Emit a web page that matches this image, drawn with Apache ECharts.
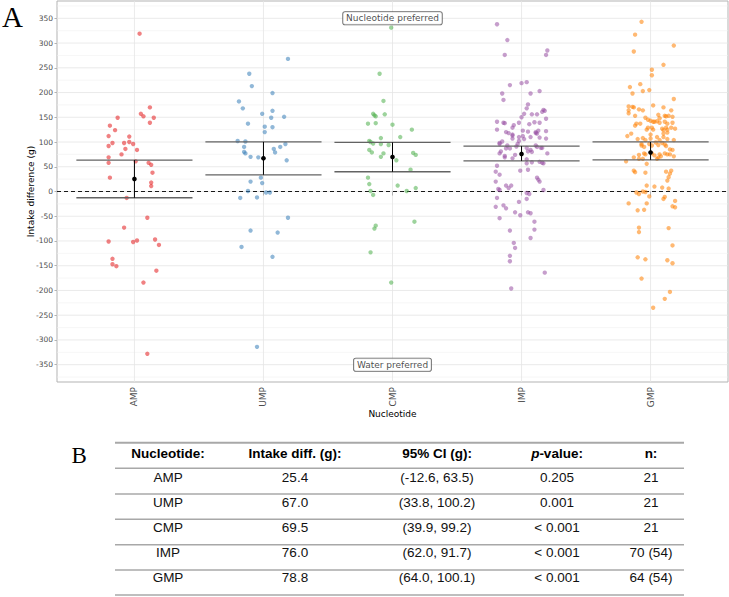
<!DOCTYPE html>
<html>
<head>
<meta charset="utf-8">
<script src="https://cdn.jsdelivr.net/npm/echarts@6/dist/echarts.min.js"></script>
<style>
html,body{margin:0;padding:0;background:#fff;}
#chart{width:729px;height:597px;}
</style>
</head>
<body>
<div id="chart"></div>
<script>
// ---------- DATA ----------
const categories = ['AMP', 'UMP', 'CMP', 'IMP', 'GMP'];
const yTicks = [-350, -300, -250, -200, -150, -100, -50, 0, 50, 100, 150, 200, 250, 300, 350];
const yGrid = [-375, -350, -325, -300, -275, -250, -225, -200, -175, -150, -125, -100, -75, -50, -25, 0, 25, 50, 75, 100, 125, 150, 175, 200, 225, 250, 275, 300, 325, 350, 375];

const meanDiff = [25.4, 67.0, 69.5, 76.0, 78.8];
const ciLow = [-12.6, 33.8, 39.9, 62.0, 64.0];
const ciHigh = [63.5, 100.2, 99.2, 91.7, 100.1];
const pValues = ['0.205', '0.001', '< 0.001', '< 0.001', '< 0.001'];
const nValues = ['21', '21', '21', '70 (54)', '64 (54)'];
const tableHeader = ['Nucleotide:', 'Intake diff. (g):', '95% CI (g):', 'p-value:', 'n:'];

// jittered points: [horizontal jitter offset from category, intake difference (g)]
const ampPoints = [[0.04,319],[-0.13,149],[-0.19,133],[-0.15,124],[-0.20,112],[-0.04,111],[-0.17,98],[-0.20,92],[-0.08,98],[-0.04,100],[-0.01,96],[-0.07,86],[-0.10,75],[0.02,84],[-0.20,69],[-0.20,58],[-0.19,28],[0.12,170],[0.05,157],[0.07,152],[0.15,149],[0.12,139],[0.01,61],[0.11,58],[0.13,54],[0.14,38],[0.13,18],[0.13,11],[-0.06,-13],[0.10,-53],[-0.08,-73],[-0.20,-101],[-0.01,-102],[0.02,-99],[0.16,-97],[0.19,-108],[-0.17,-136],[-0.17,-147],[-0.14,-151],[0.17,-160],[0.07,-184],[0.10,-328]];
const umpPoints = [[0.19,268],[-0.11,238],[-0.09,213],[0.07,199],[-0.19,182],[-0.16,168],[0.07,163],[-0.01,157],[0.16,151],[0.06,149],[-0.12,137],[0.01,131],[0.07,130],[0.01,120],[-0.20,102],[-0.14,101],[-0.15,90],[0.13,90],[0.17,96],[0.08,86],[0.09,79],[-0.15,80],[-0.14,77],[-0.10,70],[-0.04,69],[0.18,63],[-0.10,20],[-0.01,17],[-0.02,28],[-0.12,1],[0.02,-2],[0.05,-2],[-0.18,-13],[-0.05,-12],[0.19,-53],[-0.10,-79],[0.11,-83],[-0.17,-112],[0.07,-132],[-0.05,-314]];
const cmpPoints = [[-0.01,331],[-0.10,238],[-0.07,183],[-0.15,157],[-0.14,154],[-0.13,152],[-0.06,156],[-0.19,137],[-0.13,138],[0.00,135],[0.15,125],[0.06,110],[-0.18,102],[-0.17,100],[-0.15,97],[-0.09,108],[-0.09,96],[-0.03,94],[-0.18,84],[-0.16,79],[-0.07,77],[-0.09,70],[0.03,63],[0.16,78],[0.18,74],[0.14,44],[-0.19,28],[-0.18,15],[0.04,12],[-0.17,1],[-0.15,-7],[0.18,7],[0.11,1],[0.17,-61],[-0.13,-69],[-0.14,-75],[-0.17,-123],[-0.01,-184]];
const impPoints = [[-0.19,338],[-0.11,306],[-0.13,276],[0.20,285],[0.19,276],[0.00,219],[0.04,221],[-0.09,215],[-0.15,198],[0.07,198],[0.14,203],[-0.14,185],[0.05,176],[0.04,168],[0.17,165],[0.18,163],[0.16,161],[0.02,157],[0.08,156],[0.12,156],[0.00,150],[0.19,147],[-0.19,141],[-0.14,139],[-0.13,138],[-0.06,134],[-0.07,129],[-0.02,139],[0.06,136],[0.10,140],[0.14,139],[-0.19,125],[-0.12,120],[-0.10,118],[-0.07,115],[0.01,123],[0.05,121],[0.11,120],[0.13,123],[0.19,122],[-0.15,101],[-0.17,98],[-0.17,96],[-0.07,113],[-0.07,107],[-0.02,110],[0.01,112],[0.02,106],[0.07,110],[0.11,118],[0.12,117],[0.14,109],[0.19,107],[-0.11,93],[-0.12,87],[-0.09,87],[-0.04,91],[-0.02,102],[-0.03,96],[0.04,88],[0.05,81],[0.07,84],[0.08,80],[0.11,93],[0.12,90],[0.15,88],[0.16,88],[0.20,77],[-0.16,81],[-0.17,77],[-0.13,72],[-0.13,69],[-0.05,74],[-0.07,67],[0.04,65],[0.04,57],[0.08,59],[0.14,60],[0.16,58],[0.17,57],[-0.19,52],[-0.20,40],[-0.17,34],[-0.01,42],[0.05,44],[0.12,28],[0.13,24],[0.14,20],[-0.20,20],[-0.12,12],[-0.08,12],[-0.10,7],[-0.18,5],[-0.17,3],[0.17,3],[0.04,-3],[0.06,-5],[-0.19,-13],[0.04,-15],[-0.20,-31],[-0.14,-28],[-0.12,-34],[-0.02,-21],[-0.05,-42],[-0.17,-54],[-0.01,-48],[0.05,-42],[0.07,-44],[0.10,-61],[-0.09,-79],[0.10,-77],[0.07,-94],[-0.06,-104],[-0.05,-114],[-0.09,-130],[-0.09,-141],[0.18,-164],[-0.08,-196]];
const gmpPoints = [[-0.07,343],[-0.12,317],[-0.13,283],[0.18,295],[0.10,256],[0.01,246],[0.01,235],[-0.08,217],[-0.16,211],[-0.06,203],[-0.01,205],[-0.14,198],[0.18,187],[0.02,174],[-0.17,172],[-0.14,171],[-0.13,170],[-0.17,164],[-0.17,158],[-0.09,166],[-0.06,164],[0.10,170],[0.16,164],[-0.12,153],[-0.04,149],[0.06,155],[0.07,148],[0.11,153],[0.12,152],[0.14,153],[0.17,151],[-0.02,145],[0.00,143],[0.02,141],[0.03,141],[0.05,142],[0.07,139],[-0.11,137],[-0.12,133],[-0.08,137],[0.11,141],[0.13,137],[0.17,139],[0.16,129],[-0.02,129],[-0.03,125],[0.01,129],[0.02,125],[0.09,127],[0.10,124],[0.12,129],[0.13,125],[0.19,127],[-0.18,112],[-0.15,117],[-0.10,106],[-0.06,108],[-0.04,104],[0.00,115],[0.00,107],[0.05,110],[0.07,104],[0.10,117],[0.10,110],[0.13,106],[0.13,119],[0.18,104],[-0.07,96],[-0.05,90],[-0.07,93],[-0.01,96],[0.01,93],[0.04,99],[0.06,94],[0.09,98],[0.11,95],[0.12,92],[0.15,85],[0.17,84],[-0.09,74],[-0.05,77],[-0.04,75],[0.01,77],[0.03,73],[0.07,75],[0.08,71],[0.11,77],[0.13,75],[0.15,75],[0.18,71],[-0.13,69],[0.06,68],[-0.19,61],[-0.09,66],[-0.06,66],[0.05,66],[-0.03,56],[-0.13,42],[-0.12,39],[-0.04,38],[0.12,40],[0.16,42],[0.15,36],[0.14,29],[0.13,22],[0.03,10],[-0.03,12],[0.09,8],[0.14,6],[-0.11,-2],[-0.09,-5],[-0.06,0],[-0.04,-1],[-0.01,-10],[0.11,-11],[0.10,-15],[-0.17,-24],[-0.10,-38],[-0.05,-37],[-0.03,-24],[0.19,-19],[0.17,-30],[0.19,-32],[-0.09,-73],[-0.09,-82],[0.14,-74],[0.17,-109],[-0.10,-133],[-0.04,-137],[0.13,-139],[0.17,-145],[-0.07,-176],[0.15,-203],[0.11,-217],[0.02,-235]];

const groupPoints = [ampPoints, umpPoints, cmpPoints, impPoints, gmpPoints];
const groupColors = ['#E41A1C', '#377EB8', '#4DAF4A', '#984EA3', '#FF7F00'];
const annotations = [{ text: 'Nucleotide preferred', cat: 3, y: 350 }, { text: 'Water preferred', cat: 3, y: -350 }];

// ---------- CHART ----------
const chart = echarts.init(document.getElementById('chart'), null, { renderer: 'svg' });
const sansPlot = '"DejaVu Sans", sans-serif';
const sansTable = '"Liberation Sans", Arial, sans-serif';

const series = [];
// horizontal grid lines (major at 50s, minor at 25s)
series.push({
  type: 'custom', z: 0, silent: true,
  data: yGrid.map(v => [1, v]),
  renderItem: function (params, api) {
    const cs = params.coordSys;
    const v = api.value(1);
    const y = api.coord([1, v])[1];
    const major = (v % 50 === 0);
    return { type: 'line', shape: { x1: cs.x, y1: y, x2: cs.x + cs.width, y2: y },
      style: { stroke: major ? '#e4e4e4' : '#f0f0f0', lineWidth: major ? 0.8 : 0.6 } };
  }
});
// vertical grid lines at categories
series.push({
  type: 'custom', z: 0, silent: true,
  data: categories.map((c, i) => [i + 1, 0]),
  renderItem: function (params, api) {
    const cs = params.coordSys;
    const x = api.coord([api.value(0), 0])[0];
    return { type: 'line', shape: { x1: x, y1: cs.y, x2: x, y2: cs.y + cs.height },
      style: { stroke: '#e4e4e4', lineWidth: 0.8 } };
  }
});
// zero reference line
series.push({
  type: 'custom', z: 1, silent: true,
  data: [[1, 0]],
  renderItem: function (params, api) {
    const cs = params.coordSys;
    const y = api.coord([1, api.value(1)])[1];
    return { type: 'line', shape: { x1: cs.x, y1: y, x2: cs.x + cs.width, y2: y },
      style: { stroke: '#000', lineWidth: 0.9, lineDash: [4, 3] } };
  }
});
// points
groupPoints.forEach((pts, gi) => {
  series.push({
    name: categories[gi], type: 'scatter', z: 2,
    symbolSize: 4.4,
    itemStyle: { color: groupColors[gi], opacity: 0.55 },
    data: pts.map(p => [gi + 1 + p[0], p[1]])
  });
});
// error bars
series.push({
  type: 'custom', z: 3, silent: true,
  itemStyle: { color: '#000' },
  data: categories.map((c, i) => [i + 1, ciLow[i], ciHigh[i], meanDiff[i]]),
  renderItem: function (params, api) {
    const x = api.value(0), lo = api.value(1), hi = api.value(2), m = api.value(3);
    const a1 = api.coord([x - 0.45, lo]), a2 = api.coord([x + 0.45, lo]);
    const b1 = api.coord([x - 0.45, hi]), b2 = api.coord([x + 0.45, hi]);
    const c1 = api.coord([x, lo]), c2 = api.coord([x, hi]), cm = api.coord([x, m]);
    return {
      type: 'group', children: [
        { type: 'line', shape: { x1: a1[0], y1: a1[1], x2: a2[0], y2: a2[1] }, style: { stroke: '#636363', lineWidth: 1.3, fill: null } },
        { type: 'line', shape: { x1: b1[0], y1: b1[1], x2: b2[0], y2: b2[1] }, style: { stroke: '#636363', lineWidth: 1.3, fill: null } },
        { type: 'line', shape: { x1: c1[0], y1: c1[1], x2: c2[0], y2: c2[1] }, style: { stroke: '#000', lineWidth: 1, fill: null } },
        { type: 'circle', shape: { cx: cm[0], cy: cm[1], r: 2.3 }, style: { fill: '#000', stroke: '#000', lineWidth: 0 } }
      ]
    };
  }
});
// annotation labels
series.push({
  type: 'scatter', z: 4, symbolSize: 0, silent: true,
  data: annotations.map(a => ({ name: a.text, value: [a.cat, a.y] })),
  label: {
    show: true, position: 'inside', formatter: '{b}',
    fontFamily: sansPlot, fontSize: 9, color: '#1a1a1a',
    backgroundColor: '#fff', borderColor: '#444', borderWidth: 0.8, borderRadius: 2,
    padding: [1.5, 3, 1, 3], lineHeight: 10
  }
});

// table graphics
const colX = [168, 295, 437, 557, 651];
const lineYs = [442.7, 468.3, 494, 519.3, 544.7, 570, 595];
const headerY = 453.3;
const rowYs = [477, 502, 527.3, 552.5, 577.5];
const graphics = [];
graphics.push({ type: 'text', left: 2, top: 2, style: { text: 'A', font: '29px "Liberation Serif", "Times New Roman", serif', fill: '#000' } });
graphics.push({ type: 'text', x: 71.5, y: 455, style: { text: 'B', font: '23px "Liberation Serif", "Times New Roman", serif', fill: '#000', verticalAlign: 'middle' } });
lineYs.forEach((y, i) => {
  graphics.push({ type: 'line', shape: { x1: 115, y1: y, x2: 684, y2: y }, style: { stroke: '#a8a8a8', lineWidth: i === 0 ? 2 : 1.5 } });
});
tableHeader.forEach((h, ci) => {
  const isP = h.indexOf('p-') === 0;
  graphics.push({
    type: 'text', x: colX[ci], y: headerY,
    style: isP ? {
      text: '{i|p}{b|' + h.slice(1) + '}', align: 'center', verticalAlign: 'middle',
      rich: {
        i: { fontFamily: sansTable, fontSize: 13.5, fontWeight: 'bold', fontStyle: 'italic', fill: '#000' },
        b: { fontFamily: sansTable, fontSize: 13.5, fontWeight: 'bold', fill: '#000' }
      }
    } : {
      text: h, align: 'center', verticalAlign: 'middle',
      fontFamily: sansTable, fontSize: 13.5, fontWeight: 'bold', fill: '#000'
    }
  });
});
categories.forEach((c, ri) => {
  const cells = [c, meanDiff[ri].toFixed(1), '(' + ciLow[ri].toFixed(1) + ', ' + ciHigh[ri].toFixed(1) + ')', pValues[ri], nValues[ri]];
  cells.forEach((t, ci) => {
    graphics.push({
      type: 'text', x: colX[ci], y: rowYs[ri],
      style: { text: t, align: 'center', verticalAlign: 'middle', fontFamily: sansTable, fontSize: 13.5, fill: '#111' }
    });
  });
});

const option = {
  animation: false,
  backgroundColor: '#fff',
  grid: { left: 57, right: 1, top: 1, bottom: 215, show: true, borderColor: '#b3b3b3', borderWidth: 1, backgroundColor: '#fff' },
  xAxis: {
    type: 'value', min: 0.4, max: 5.6,
    axisLine: { show: false }, splitLine: { show: false },
    axisTick: { show: true, customValues: [1, 2, 3, 4, 5], length: 4, lineStyle: { color: '#b3b3b3' } },
    axisLabel: {
      customValues: [1, 2, 3, 4, 5], rotate: 90, margin: 5,
      formatter: v => categories[Math.round(v) - 1] || '',
      color: '#4d4d4d', fontFamily: sansPlot, fontSize: 9
    },
    name: 'Nucleotide', nameLocation: 'middle', nameGap: 27, nameMoveOverlap: false,
    nameTextStyle: { color: '#000', fontFamily: sansPlot, fontSize: 9 }
  },
  yAxis: {
    type: 'value', min: -385, max: 385,
    axisLine: { show: false }, splitLine: { show: false },
    axisTick: { show: true, customValues: yTicks, length: 2.5, lineStyle: { color: '#b3b3b3' } },
    axisLabel: { customValues: yTicks, margin: 4, color: '#4d4d4d', fontFamily: sansPlot, fontSize: 7.5 },
    name: 'Intake difference (g)', nameLocation: 'middle', nameGap: 22, nameMoveOverlap: false,
    nameTextStyle: { color: '#000', fontFamily: sansPlot, fontSize: 9 }
  },
  series: series,
  graphic: graphics
};
chart.setOption(option);
</script>
</body>
</html>
